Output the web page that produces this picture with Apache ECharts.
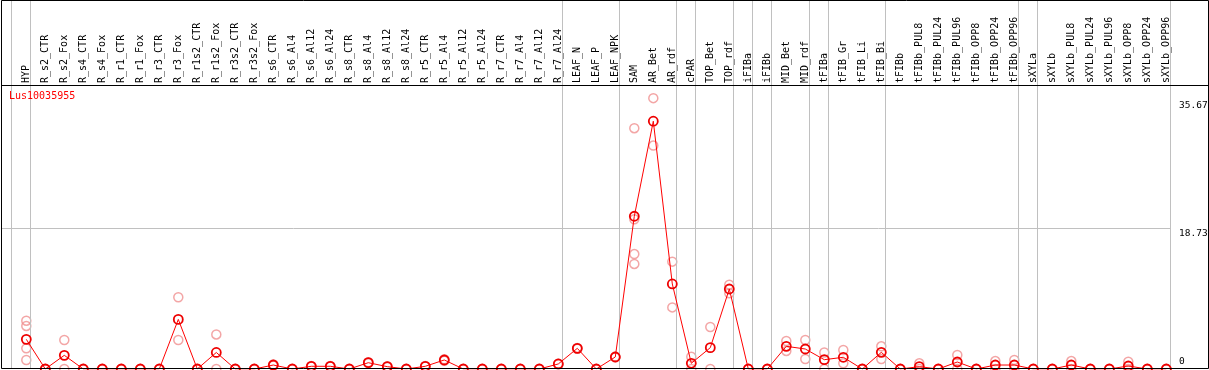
<!DOCTYPE html>
<html>
<head>
<meta charset="utf-8">
<script src="https://cdn.jsdelivr.net/npm/echarts@6/dist/echarts.min.js"></script>
<style>
html,body{margin:0;padding:0;background:#fff;}
#chart{width:1209px;height:370px;}
</style>
</head>
<body>
<div id="chart"></div>
<script>
const geneName = 'Lus10035955';

const categories = [
  'HYP',
  'R_s2_CTR','R_s2_Fox','R_s4_CTR','R_s4_Fox','R_r1_CTR','R_r1_Fox','R_r3_CTR','R_r3_Fox',
  'R_r1s2_CTR','R_r1s2_Fox','R_r3s2_CTR','R_r3s2_Fox',
  'R_s6_CTR','R_s6_Al4','R_s6_Al12','R_s6_Al24','R_s8_CTR','R_s8_Al4','R_s8_Al12','R_s8_Al24',
  'R_r5_CTR','R_r5_Al4','R_r5_Al12','R_r5_Al24','R_r7_CTR','R_r7_Al4','R_r7_Al12','R_r7_Al24',
  'LEAF_N','LEAF_P','LEAF_NPK',
  'SAM','AR_Bet','AR_rdf','cPAR','TOP_Bet','TOP_rdf','iFIBa','iFIBb','MID_Bet','MID_rdf',
  'tFIBa','tFIB_Gr','tFIB_Li','tFIB_Bi',
  'tFIBb','tFIBb_PUL8','tFIBb_PUL24','tFIBb_PUL96','tFIBb_OPP8','tFIBb_OPP24','tFIBb_OPP96',
  'sXYLa','sXYLb','sXYLb_PUL8','sXYLb_PUL24','sXYLb_PUL96','sXYLb_OPP8','sXYLb_OPP24','sXYLb_OPP96'
];

const meanValues = [
  3.95,
  0, 1.82, 0, 0, 0, 0, 0, 6.6,
  0, 2.2, 0, 0,
  0.53, 0, 0.36, 0.36, 0, 0.84, 0.31, 0,
  0.36, 1.2, 0, 0, 0, 0, 0, 0.67,
  2.75, 0, 1.6,
  20.33, 32.98, 11.32, 0.76, 2.84, 10.65, 0, 0, 3.02, 2.66,
  1.24, 1.56, 0, 2.22,
  0, 0.31, 0, 0.93, 0, 0.53, 0.53,
  0, 0, 0.53, 0, 0, 0.4, 0, 0
];

const repA = [
  6.43,
  0, 3.86, 0, 0, 0, 0, 0, 9.55,
  0, 4.6, 0, 0,
  0.6, 0, 0.4, 0.4, 0, 0.9, 0.35, 0,
  0.4, 1.3, 0, 0, 0, 0, 0, 0.7,
  2.8, 0, 1.65,
  32.05, 36.05, 14.29, 1.64, 5.59, 11.23, 0, 0, 3.73, 3.86,
  2.2, 2.53, 0, 3.02,
  0, 0.76, 0, 1.86, 0, 1.06, 1.2,
  0, 0, 1.06, 0, 0, 0.98, 0, 0
];

const repB = [
  5.73,
  0, 0, 0, 0, 0, 0, 0, 3.86,
  0, 0, 0, 0,
  0.46, 0, 0.32, 0.32, 0, 0.78, 0.27, 0,
  0.32, 1.1, 0, 0, 0, 0, 0, 0.64,
  2.7, 0, 1.55,
  19.93, 29.74, 8.2, 0, 0, 10.07, 0, 0, 2.4, 1.33,
  0, 0.76, 0, 1.33,
  0, 0, 0, 0, 0, 0, 0,
  0, 0, 0, 0, 0, 0, 0, 0
];

const repC = [2.75].concat(new Array(31).fill(null), [15.3], new Array(28).fill(null));
const repD = [1.2].concat(new Array(31).fill(null), [13.98], new Array(28).fill(null));

const yTicks = [0, 18.73, 35.67];
const groupEnds = [-1, 0, 28, 31, 34, 35, 37, 38, 39, 41, 42, 45, 52, 53, 60];

// ---- layout ----
const X_MIN = -1.3316, X_MAX = 60.247, SEP_OFF = 0.23;
const Y_MAX = 37.8;
const GRID_LEFT = 1, GRID_RIGHT = 38;
const MONO = "'DejaVu Sans Mono', monospace";
const GRAY = '#c0c0c0';

function repPoints(arr) {
  const out = [];
  arr.forEach((v, i) => { if (v !== null && v !== undefined) out.push([i, v]); });
  return out;
}
const repData = [].concat(repPoints(repA), repPoints(repB), repPoints(repC), repPoints(repD));
const meanData = meanValues.map((v, i) => [i, v]);
const sepLines = groupEnds.map(g => ({ xAxis: g + SEP_OFF }));

const chart = echarts.init(document.getElementById('chart'), null, { renderer: 'canvas' });
chart.setOption({
  animation: false,
  backgroundColor: '#ffffff',
  title: {
    text: geneName, left: 9, top: 91,
    textStyle: { color: '#ff0000', fontFamily: MONO, fontSize: 10, fontWeight: 'normal' },
    padding: 0
  },
  grid: [
    { left: GRID_LEFT, right: GRID_RIGHT, top: 0, height: 85, containLabel: false, outerBoundsMode: 'none' },
    { left: GRID_LEFT, right: GRID_RIGHT, top: 85, bottom: 1, containLabel: false, outerBoundsMode: 'none' }
  ],
  xAxis: [
    { gridIndex: 0, type: 'value', min: X_MIN, max: X_MAX, show: false },
    {
      gridIndex: 1, type: 'value', min: X_MIN, max: X_MAX, position: 'top',
      axisLine: { show: false }, axisTick: { show: false }, splitLine: { show: false },
      axisLabel: {
        customValues: categories.map((c, i) => i),
        formatter: v => categories[Math.round(v)] || '',
        rotate: 90, margin: 2, fontFamily: MONO, fontSize: 10, color: '#000'
      }
    }
  ],
  yAxis: [
    { gridIndex: 0, type: 'value', min: 0, max: 1, show: false },
    {
      gridIndex: 1, type: 'value', min: 0, max: Y_MAX, position: 'right',
      axisLine: { show: false }, axisTick: { show: false }, splitLine: { show: false },
      axisLabel: {
        customValues: yTicks.filter(v => v > 0), verticalAlign: 'top', align: 'left',
        margin: 8, fontFamily: MONO, fontSize: 9.5, color: '#000',
        formatter: v => String(v)
      }
    },
    {
      gridIndex: 1, type: 'value', min: 0, max: Y_MAX, position: 'right',
      axisLine: { show: false }, axisTick: { show: false }, splitLine: { show: false },
      axisLabel: {
        customValues: yTicks.filter(v => v === 0), verticalAlign: 'bottom', align: 'left',
        margin: 8, padding: [0, 0, 2, 0], fontFamily: MONO, fontSize: 9.5, color: '#000',
        formatter: v => String(v)
      }
    }
  ],
  series: [
    {
      type: 'line', xAxisIndex: 0, yAxisIndex: 0, data: [], silent: true,
      markLine: {
        silent: true, symbol: 'none', label: { show: false },
        lineStyle: { color: GRAY, width: 1, type: 'solid' },
        data: sepLines
      }
    },
    {
      type: 'scatter', xAxisIndex: 1, yAxisIndex: 1, data: repData, z: 3,
      symbol: 'circle', symbolSize: 9,
      itemStyle: { color: 'rgba(255,255,255,0)', borderColor: '#f09090', borderWidth: 1.5 },
      markLine: {
        silent: true, symbol: 'none', label: { show: false },
        lineStyle: { color: GRAY, width: 1, type: 'solid' },
        data: sepLines.concat(yTicks.filter(v => v > 0 && v < 30).map(v => ({ yAxis: v })))
      }
    },
    {
      type: 'line', xAxisIndex: 1, yAxisIndex: 1, data: meanData, z: 5,
      symbol: 'circle', symbolSize: 9, showAllSymbol: true,
      lineStyle: { color: '#ff0000', width: 1 },
      itemStyle: { color: 'rgba(255,255,255,0)', borderColor: '#ee0000', borderWidth: 1.8 }
    }
  ],
  graphic: [
    { type: 'rect', z: 100, silent: true,
      shape: { x: 1.5, y: 0.5, width: 1207, height: 368 },
      style: { fill: 'none', stroke: '#000', lineWidth: 1 } },
    { type: 'line', z: 100, silent: true,
      shape: { x1: 1, y1: 85.5, x2: 1209, y2: 85.5 },
      style: { stroke: '#000', lineWidth: 1 } }
  ]
});
</script>
</body>
</html>
